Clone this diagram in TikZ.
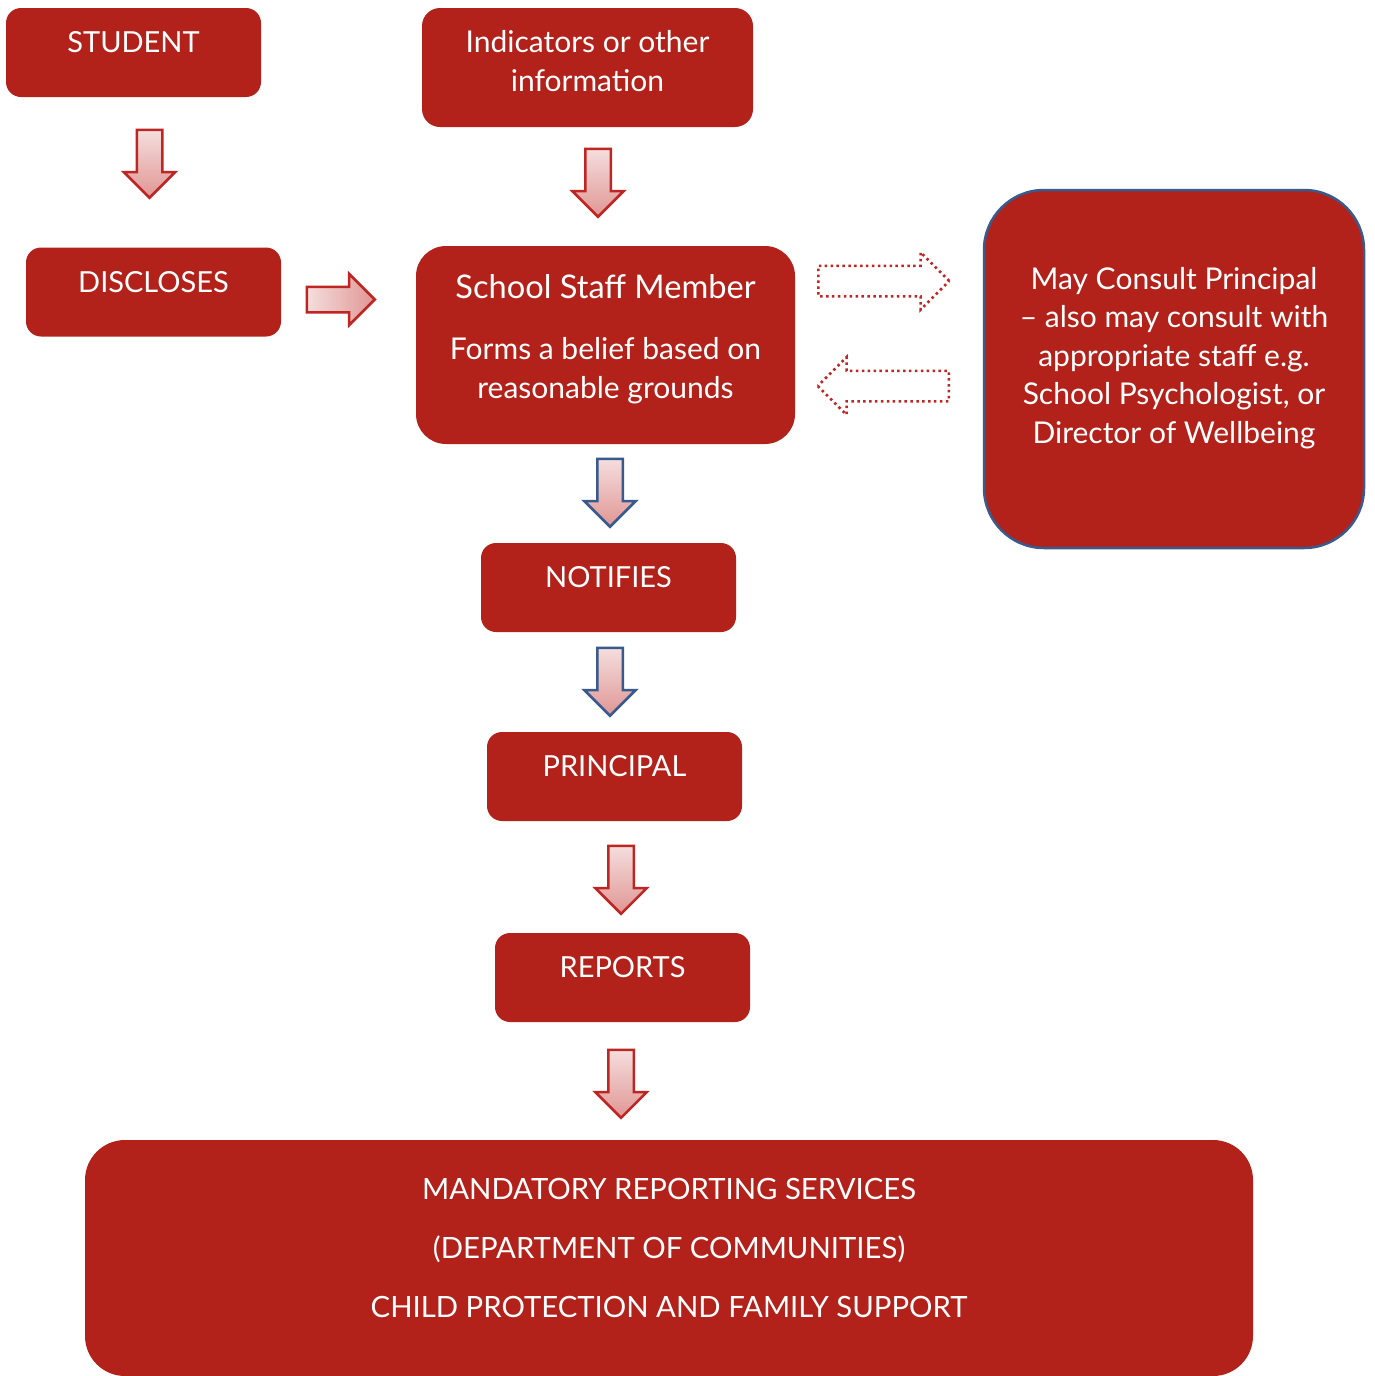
\documentclass[tikz,border=0pt]{standalone}
\usepackage{fontspec}
\setmainfont{Lato}
\usepackage{xcolor}
\usepackage{tikz}
\usetikzlibrary{shapes.arrows}

\definecolor{boxred}{RGB}{178,34,26}
\definecolor{arrowred}{RGB}{190,38,36}
\definecolor{arrowblue}{RGB}{56,90,140}
\definecolor{shadetop}{RGB}{244,222,221}
\definecolor{shadebot}{RGB}{224,150,148}

\tikzset{
	box/.style={fill=boxred, text=white, rounded corners=15, inner sep=0, align=center,
		font=\fontsize{30}{38.5}\selectfont},
	smallbox/.style={box, minimum width=255, minimum height=89, text height=20, text depth=20,
		font=\fontsize{29}{38.5}\selectfont},
	blockarrow/.style={single arrow, anchor=tail, inner sep=11.5, line width=2.5, single arrow head extend=13,
		minimum width=49, minimum height=68},
	downarrow/.style={blockarrow, shape border rotate=270, draw=#1, top color=shadetop, bottom color=shadebot},
	rightarrow/.style={blockarrow, draw=arrowred, left color=shadetop, right color=shadebot},
	dotarrow/.style={single arrow, anchor=tail, inner sep=14, draw=arrowred, line width=2.5,
		dash pattern=on 2.5 off 3.4, single arrow head extend=13.5, minimum width=55, minimum height=131}
}

\begin{document}
\begin{tikzpicture}[x=1pt, y=-1pt]
	\useasboundingbox (0,0) rectangle (1374,1376);
	\clip (0,0) rectangle (1374,1376);

	% boxes
	\node[smallbox] (student) at (133.5,52.5) {STUDENT};
	\node[box, minimum width=331, minimum height=119, rounded corners=18, text height=52, text depth=5]
		(indicators) at (587.5,67.5) {Indicators or other\\information};
	\node[smallbox] (discloses) at (153.5,292) {DISCLOSES};
	\node[box, minimum width=379, minimum height=198, rounded corners=30, text height=111, text depth=5]
		(staff) at (605.5,345) {{\fontsize{32.6}{38.5}\selectfont School Staff Member}\\[23]Forms a belief based on\\reasonable grounds};
	\node[box, draw=arrowblue, line width=2.5, minimum width=380, minimum height=358, rounded corners=60,
		text height=153, text depth=5] (consult) at (1174,369)
		{May Consult Principal\\-- also may consult with\\appropriate staff e.g.\\School Psychologist, or\\Director of Wellbeing};
	\node[smallbox] (notifies) at (608.5,587.5) {NOTIFIES};
	\node[smallbox] (principal) at (614.5,776.5) {PRINCIPAL};
	\node[smallbox] (reports) at (622.5,977.5) {REPORTS};
	\node[box, minimum width=1168, minimum height=236, rounded corners=40, text height=123, text depth=5,
		font=\fontsize{29.3}{59}\selectfont] (services) at (669,1258)
		{MANDATORY REPORTING SERVICES\\(DEPARTMENT OF COMMUNITIES)\\CHILD PROTECTION AND FAMILY SUPPORT};

	% arrows
	\node[downarrow=arrowred] (a1) at (149.5,128.5) {};
	\node[downarrow=arrowred] (a2) at (598,147.5) {};
	\node[rightarrow, shape border rotate=0] (a3) at (305.5,299.5) {};
	\node[dotarrow] (d1) at (817,281) {};
	\node[dotarrow, shape border rotate=180] (d2) at (950,386) {};
	\node[downarrow=arrowblue] (a4) at (610,457.5) {};
	\node[downarrow=arrowblue] (a5) at (610,646.5) {};
	\node[downarrow=arrowred] (a6) at (621,844.5) {};
	\node[downarrow=arrowred] (a7) at (621,1048.5) {};
\end{tikzpicture}
\end{document}
